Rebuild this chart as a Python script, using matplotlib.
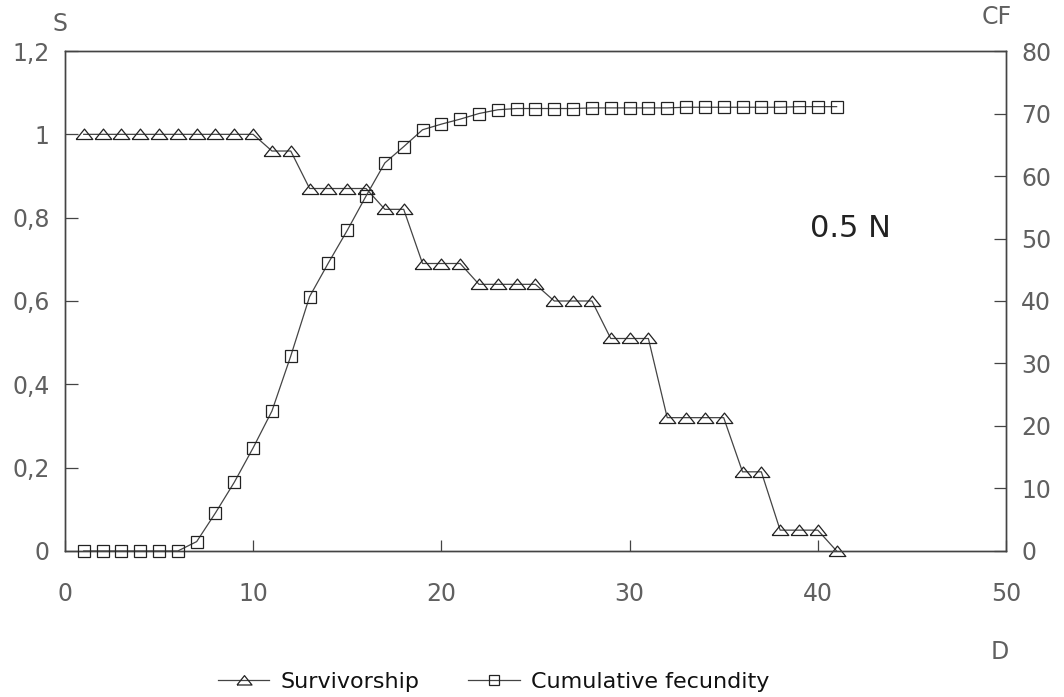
import matplotlib.pyplot as plt

# day, survivorship (left axis) and cumulative fecundity (right axis)
days = [1, 2, 3, 4, 5, 6, 7, 8, 9, 10,
        11, 12, 13, 14, 15, 16, 17, 18, 19, 20,
        21, 22, 23, 24, 25, 26, 27, 28, 29, 30,
        31, 32, 33, 34, 35, 36, 37, 38, 39, 40, 41]
survivorship = [1.00, 1.00, 1.00, 1.00, 1.00, 1.00, 1.00, 1.00, 1.00, 1.00,
                0.96, 0.96, 0.87, 0.87, 0.87, 0.87, 0.82, 0.82, 0.69, 0.69,
                0.69, 0.64, 0.64, 0.64, 0.64, 0.60, 0.60, 0.60, 0.51, 0.51,
                0.51, 0.32, 0.32, 0.32, 0.32, 0.19, 0.19, 0.05, 0.05, 0.05, 0.00]
cum_fecundity = [0, 0, 0, 0, 0, 0, 1.5, 6.1, 11.0, 16.5,
                 22.4, 31.2, 40.7, 46.1, 51.3, 56.8, 62.1, 64.7, 67.4, 68.3,
                 69.1, 70.0, 70.6, 70.8, 70.8, 70.8, 70.8, 70.9, 70.9, 70.9,
                 70.9, 70.9, 71.0, 71.0, 71.0, 71.0, 71.0, 71.0, 71.1, 71.1, 71.1]

x_ticks = [0, 10, 20, 30, 40, 50]
s_ticks = [0, 0.2, 0.4, 0.6, 0.8, 1.0, 1.2]
s_labels = ['0', '0,2', '0,4', '0,6', '0,8', '1', '1,2']
cf_ticks = [0, 10, 20, 30, 40, 50, 60, 70, 80]

plt.rcParams['font.family'] = ['DejaVu Sans']
tick_col = '#606060'
line_col = '#444444'
mark_col = '#222222'

fig = plt.figure(figsize=(10.64, 6.97), dpi=100)
ax = fig.add_axes([0.061, 0.2095, 0.8845, 0.7173])
ax2 = ax.twinx()

tri = [(-1, -0.6), (1, -0.6), (0, 0.65), (-1, -0.6)]
l1, = ax.plot(days, survivorship, color=line_col, lw=0.9, marker=tri,
              markersize=12, markerfacecolor='none', markeredgecolor=mark_col,
              markeredgewidth=0.9, clip_on=False, zorder=3)
l2, = ax2.plot(days, cum_fecundity, color=line_col, lw=0.9, marker='s',
               markersize=8, markerfacecolor='none', markeredgecolor=mark_col,
               markeredgewidth=0.9, clip_on=False, zorder=3)

ax.set_xlim(0, 50)
ax.set_ylim(0, 1.2)
ax2.set_ylim(0, 80)

ax.set_xticks(x_ticks)
ax.set_xticklabels([str(t) for t in x_ticks])
ax.set_yticks(s_ticks)
ax.set_yticklabels(s_labels)
ax2.set_yticks(cf_ticks)
ax2.set_yticklabels([str(t) for t in cf_ticks])

ax.tick_params(axis='x', direction='in', length=8, width=0.9, color=line_col,
               labelsize=17, labelcolor=tick_col, pad=22)
ax.tick_params(axis='y', direction='in', length=9, width=0.9, color=line_col,
               labelsize=17, labelcolor=tick_col, pad=11)
ax2.tick_params(axis='y', direction='in', length=9, width=0.9, color=line_col,
                labelsize=17, labelcolor=tick_col, pad=11)

for a in (ax, ax2):
    for sp in a.spines.values():
        sp.set_color(line_col)
        sp.set_linewidth(1.0)

fig.text(0.056, 0.965, 'S', fontsize=17, color=tick_col, ha='center', va='center')
fig.text(0.937, 0.975, 'CF', fontsize=17, color=tick_col, ha='center', va='center')
fig.text(0.940, 0.065, 'D', fontsize=17, color=tick_col, ha='center', va='center')
ax.text(0.792, 0.646, '0.5 N', transform=ax.transAxes, fontsize=22,
        color='#222222', ha='left', va='center')

fig.legend([l1, l2], ['Survivorship', 'Cumulative fecundity'],
           loc='center', bbox_to_anchor=(0.464, 0.022), ncol=2, frameon=False,
           fontsize=16, handlelength=2.3, handletextpad=0.5, columnspacing=2.2,
           markerscale=0.9, labelcolor='#111111')

fig.savefig('out.png', dpi=100)
